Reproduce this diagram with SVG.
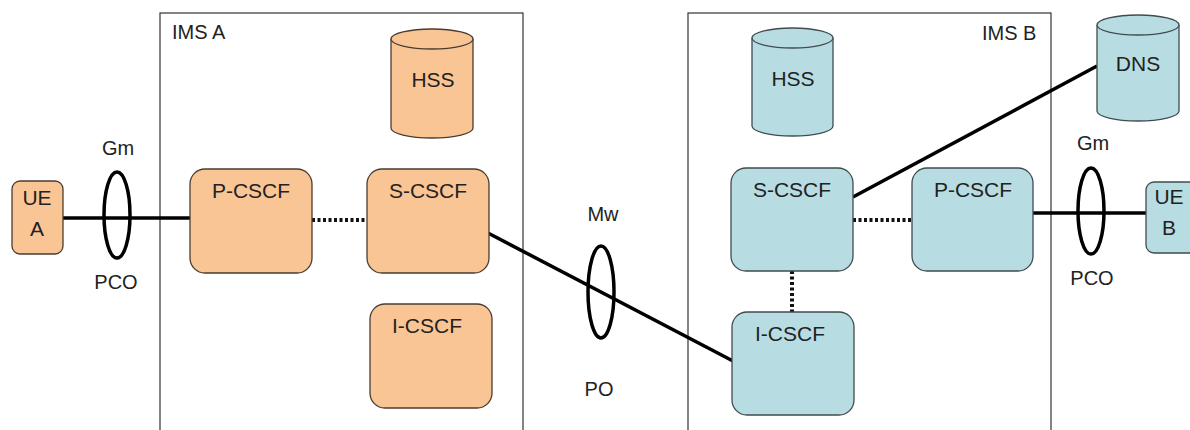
<svg xmlns="http://www.w3.org/2000/svg" width="1190" height="430" viewBox="0 0 1190 430">
<style>
text{font-family:"Liberation Sans",Arial,sans-serif;fill:#222;text-anchor:middle}
.lbl{font-size:21px}
.dom{font-size:20px;text-anchor:start}
.ifc{font-size:20px}
.a{fill:#FAC595;stroke:#4a3c30;stroke-width:1.3}
.b{fill:#B7DDE3;stroke:#3f4c50;stroke-width:1.3}
.solid{stroke:#000;stroke-width:3.5;fill:none}
.dot{stroke:#111;stroke-width:4;stroke-dasharray:3 2.5;fill:none}
.ring{stroke:#000;stroke-width:3.5;fill:none}
.box{fill:none;stroke:#333;stroke-width:1.2}
</style>
<rect width="1190" height="430" fill="#fff"/>
<g id="ims-a"><rect class="box" x="160" y="13" width="363" height="430"/><text class="dom" x="172" y="39">IMS A</text></g>
<g id="ims-b"><rect class="box" x="688" y="13" width="363" height="430"/><text class="dom" x="982" y="40">IMS B</text></g>
<g id="connectors">
<line class="solid" x1="63" y1="218" x2="190" y2="218"/>
<line class="dot" x1="312" y1="220" x2="367" y2="220"/>
<line class="solid" x1="488" y1="233" x2="733" y2="361"/>
<line class="dot" x1="853" y1="220" x2="912" y2="220"/>
<line class="dot" x1="792" y1="271" x2="792" y2="312"/>
<line class="solid" x1="853" y1="197" x2="1097" y2="66"/>
<line class="solid" x1="1033" y1="213" x2="1146" y2="213"/>
</g>
<g id="gm-a"><ellipse class="ring" cx="117" cy="215" rx="13" ry="43"/><text class="ifc" x="118" y="155">Gm</text><text class="ifc" x="116" y="289">PCO</text></g>
<g id="mw"><ellipse class="ring" cx="601" cy="292" rx="13" ry="46"/><text class="ifc" x="603" y="221">Mw</text><text class="ifc" x="599" y="396">PO</text></g>
<g id="gm-b"><ellipse class="ring" cx="1091" cy="211" rx="13" ry="43"/><text class="ifc" x="1093" y="150">Gm</text><text class="ifc" x="1092" y="285">PCO</text></g>
<g id="ue-a"><rect class="a" x="12" y="181" width="51" height="73" rx="8"/><text class="lbl" x="37" y="205">UE</text><text class="lbl" x="37" y="236">A</text></g>
<g id="p-cscf-a"><rect class="a" x="190" y="169" width="122" height="104" rx="15"/><text class="lbl" x="251" y="198">P-CSCF</text></g>
<g id="s-cscf-a"><rect class="a" x="367" y="169" width="122" height="104" rx="15"/><text class="lbl" x="428" y="198">S-CSCF</text></g>
<g id="i-cscf-a"><rect class="a" x="370" y="304" width="122" height="104" rx="15"/><text class="lbl" x="427" y="333">I-CSCF</text></g>
<g id="hss-a"><path class="a" d="M391 39 A41 10 0 0 1 473 39 V128 A41 10 0 0 1 391 128 Z"/><path class="a" d="M391 39 A41 10 0 0 0 473 39" fill="none"/><text class="lbl" x="433" y="87">HSS</text></g>
<g id="hss-b"><path class="b" d="M752 38 A40.5 10 0 0 1 833 38 V126 A40.5 10 0 0 1 752 126 Z"/><path class="b" d="M752 38 A40.5 10 0 0 0 833 38" fill="none"/><text class="lbl" x="793" y="86">HSS</text></g>
<g id="dns"><path class="b" d="M1097 25 A41 10 0 0 1 1179 25 V111 A41 10 0 0 1 1097 111 Z"/><path class="b" d="M1097 25 A41 10 0 0 0 1179 25" fill="none"/><text class="lbl" x="1138" y="71">DNS</text></g>
<g id="s-cscf-b"><rect class="b" x="731" y="168" width="122" height="103" rx="15"/><text class="lbl" x="792" y="197">S-CSCF</text></g>
<g id="p-cscf-b"><rect class="b" x="912" y="168" width="121" height="103" rx="15"/><text class="lbl" x="973" y="197">P-CSCF</text></g>
<g id="i-cscf-b"><rect class="b" x="732" y="312" width="122" height="103" rx="15"/><text class="lbl" x="790" y="341">I-CSCF</text></g>
<g id="ue-b"><rect class="b" x="1146" y="182" width="52" height="71" rx="8"/><text class="lbl" x="1169" y="204">UE</text><text class="lbl" x="1169" y="235">B</text></g>
</svg>
